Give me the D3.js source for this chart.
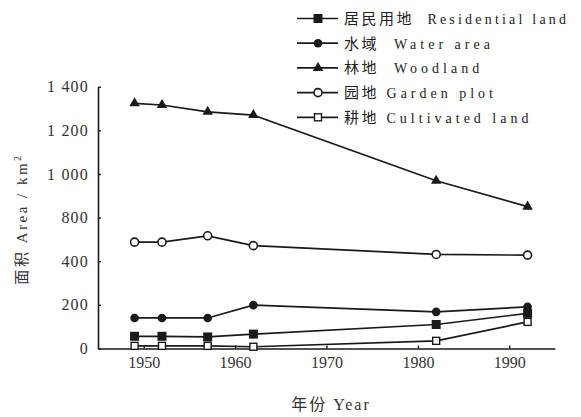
<!DOCTYPE html>
<html>
<head>
<meta charset="utf-8">
<script src="https://cdn.jsdelivr.net/npm/d3@7"></script>
<style>
  html, body { margin: 0; padding: 0; background: #fff; }
  svg { display: block; }
</style>
</head>
<body>
<svg id="chart" width="581" height="417"></svg>
<script>
// ---- data ----
const years = [1949, 1952, 1957, 1962, 1982, 1992];
const residential = [56, 56, 53, 66, 110, 161];
const water = [140, 140, 140, 199, 168, 191];
const woodland = [1324, 1316, 1285, 1270, 969, 850];
const garden = [575, 575, 633, 543, 462, 456];
const cultivated = [12, 12, 12, 8, 35, 122];

const seriesNamesZh = ["居民用地", "水域", "林地", "园地", "耕地"];
const seriesNamesEn = ["Residential land", "Water area", "Woodland", "Garden plot", "Cultivated land"];
const seriesSep = ["  ", "  ", "  ", " ", " "];
const seriesMarkers = ["squareFilled", "circleFilled", "triangle", "circleOpen", "squareOpen"];

const xTicks = [1950, 1960, 1970, 1980, 1990];
const yTicks = [0, 200, 400, 800, 1000, 1200, 1400];
const yTickLabels = ["0", "200", "400", "800", "1 000", "1 200", "1 400"];

const xTitleZh = "年份";
const xTitleEn = " Year";
const yTitleZh = "面积";
const yTitleEn = " Area / km";

// ---- layout ----
const svg = d3.select("#chart");
const pLeft = 98, pRight = 555, pBottom = 348.5, pTop = 86.7;

const x = d3.scaleLinear().domain([1945, 1995]).range([pLeft, pRight]);
const step = (pBottom - pTop) / (yTicks.length - 1);
const y = d3.scaleLinear().domain(yTicks).range(yTicks.map((d, i) => pBottom - i * step));

const ink = "#1a1a1a";
const serif = "'Liberation Serif', 'DejaVu Serif', serif";
const cjk = "'Noto Sans CJK SC', sans-serif";

// axes
const xAxis = d3.axisBottom(x).tickValues(xTicks).tickFormat(d3.format("d"))
  .tickSizeInner(-3).tickSizeOuter(0).tickPadding(8);
const gx = svg.append("g").attr("transform", `translate(0,${pBottom})`).call(xAxis);
gx.selectAll("text").attr("font-family", serif).attr("font-size", 16).attr("fill", "#333");

const yAxis = d3.axisLeft(y).tickValues(yTicks).tickFormat((d, i) => yTickLabels[i])
  .tickSizeInner(-3).tickSizeOuter(0).tickPadding(9);
const gy = svg.append("g").attr("transform", `translate(${pLeft},0)`).call(yAxis);
gy.selectAll("text").attr("font-family", serif).attr("font-size", 16).attr("fill", "#333")
  .attr("letter-spacing", 1.2);

[gx, gy].forEach(g => {
  g.select(".domain").attr("stroke", ink).attr("stroke-width", 1.6);
  g.selectAll(".tick line").attr("stroke", ink).attr("stroke-width", 1.4);
});

// titles
const xt = svg.append("text")
  .attr("x", 331).attr("y", 410)
  .attr("text-anchor", "middle")
  .attr("font-family", serif).attr("font-size", 16).attr("fill", "#333")
  .attr("letter-spacing", 2).style("white-space", "pre");
xt.append("tspan").attr("font-family", cjk).text(xTitleZh);
xt.append("tspan").text(xTitleEn);

const yt = svg.append("text")
  .attr("transform", "translate(27,219) rotate(-90)")
  .attr("text-anchor", "middle")
  .attr("font-family", serif).attr("font-size", 15).attr("fill", "#333")
  .attr("letter-spacing", 2.5).style("white-space", "pre");
yt.append("tspan").attr("font-family", cjk).text(yTitleZh);
yt.append("tspan").text(yTitleEn);
yt.append("tspan").attr("dy", -6).attr("font-size", 10).text("2");

// markers
function drawMarker(g, type, cx, cy) {
  if (type === "squareFilled") {
    g.append("rect").attr("x", cx - 4.5).attr("y", cy - 4.5).attr("width", 9).attr("height", 9).attr("fill", ink);
  } else if (type === "circleFilled") {
    g.append("circle").attr("cx", cx).attr("cy", cy).attr("r", 4.3).attr("fill", ink);
  } else if (type === "triangle") {
    g.append("path").attr("d", d3.symbol(d3.symbolTriangle, 48)()).attr("transform", `translate(${cx},${cy})`).attr("fill", ink);
  } else if (type === "circleOpen") {
    g.append("circle").attr("cx", cx).attr("cy", cy).attr("r", 4).attr("fill", "#fff").attr("stroke", ink).attr("stroke-width", 1.6);
  } else if (type === "squareOpen") {
    g.append("rect").attr("x", cx - 3.5).attr("y", cy - 3.5).attr("width", 7).attr("height", 7).attr("fill", "#fff").attr("stroke", ink).attr("stroke-width", 1.4);
  }
}

const allSeries = [residential, water, woodland, garden, cultivated];
const line = d3.line().x(d => x(d[0])).y(d => y(d[1]));

const gl = svg.append("g");
allSeries.forEach(vals => {
  gl.append("path")
    .datum(years.map((yr, i) => [yr, vals[i]]))
    .attr("d", line).attr("fill", "none").attr("stroke", ink).attr("stroke-width", 1.7);
});
const gm = svg.append("g");
allSeries.forEach((vals, s) => {
  years.forEach((yr, i) => drawMarker(gm, seriesMarkers[s], x(yr), y(vals[i])));
});

// legend
const lg = svg.append("g");
seriesNamesEn.forEach((name, i) => {
  const ly = 18.5 + i * 24.7;
  lg.append("line").attr("x1", 297).attr("x2", 338).attr("y1", ly).attr("y2", ly)
    .attr("stroke", ink).attr("stroke-width", 1.7);
  drawMarker(lg, seriesMarkers[i], 318, ly);
  const t = lg.append("text").attr("x", 344).attr("y", ly + 5.5)
    .attr("font-family", serif).attr("font-size", 14).attr("fill", "#222")
    .style("white-space", "pre");
  t.append("tspan").attr("font-family", cjk).attr("font-size", 15).attr("letter-spacing", 2.5).text(seriesNamesZh[i]);
  t.append("tspan").attr("letter-spacing", i === 0 ? 3.2 : 4).text(seriesSep[i] + name);
});
</script>
</body>
</html>
